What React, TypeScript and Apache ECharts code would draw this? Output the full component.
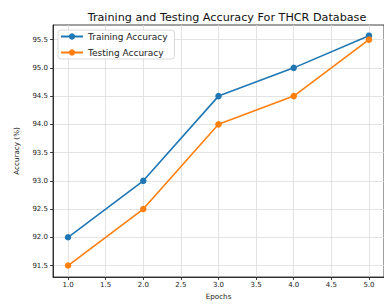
import React, { useEffect, useRef } from "react";
import * as echarts from "echarts";

const epochs = [1, 2, 3, 4, 5];
const trainingAccuracy = [92.0, 93.0, 94.5, 95.0, 95.57];
const testingAccuracy = [91.5, 92.5, 94.0, 94.5, 95.5];
const xTicks = [1.0, 1.5, 2.0, 2.5, 3.0, 3.5, 4.0, 4.5, 5.0];
const yTicks = [91.5, 92.0, 92.5, 93.0, 93.5, 94.0, 94.5, 95.0, 95.5];

const FONT = "DejaVu Sans";

export default function App() {
  const ref = useRef<HTMLDivElement>(null);
  useEffect(() => {
    document.body.style.margin = "0";
    const chart = echarts.init(ref.current!, undefined, { renderer: "svg" });
    const tickFont = { fontFamily: FONT, fontSize: 7, color: "#222" };
    chart.setOption({
      animation: false,
      backgroundColor: "#ffffff",
      title: {
        text: "Training and Testing Accuracy For THCR Database",
        left: 222,
        top: 7,
        textAlign: "center",
        textStyle: { fontFamily: FONT, fontSize: 11.2, fontWeight: "normal", color: "#111" },
      },
      legend: {
        orient: "vertical",
        left: 58,
        top: 30,
        padding: [2, 7, 2, 2],
        itemWidth: 22,
        itemHeight: 8,
        itemGap: 7,
        backgroundColor: "rgba(255,255,255,0.85)",
        borderColor: "#d0d0d0",
        borderWidth: 0.8,
        borderRadius: 3,
        textStyle: { fontFamily: FONT, fontSize: 9, color: "#222" },
        data: ["Training Accuracy", "Testing Accuracy"],
      },
      grid: {
        left: 53,
        right: -9,
        top: 25,
        bottom: 28,
        show: true,
        borderColor: "#111",
        borderWidth: 0.8,
        backgroundColor: "transparent",
      },
      xAxis: {
        type: "value",
        min: 0.8,
        max: 5.2,
        name: "Epochs",
        nameLocation: "middle",
        nameGap: 15,
        nameTextStyle: { fontFamily: FONT, fontSize: 7.2, color: "#222" },
        axisLine: { show: true, lineStyle: { color: "#111", width: 0.8 } },
        axisTick: { show: true, length: 3, lineStyle: { color: "#111", width: 0.8 }, customValues: xTicks },
        axisLabel: {
          ...tickFont,
          margin: 4,
          customValues: xTicks,
          formatter: (v: number) => v.toFixed(1),
        },
        splitLine: { show: true, lineStyle: { color: "#dcdcdc", width: 0.8 } },
      },
      yAxis: {
        type: "value",
        min: 91.297,
        max: 95.759,
        name: "Accuracy (%)",
        nameLocation: "middle",
        nameGap: 33,
        nameTextStyle: { fontFamily: FONT, fontSize: 7.2, color: "#222" },
        axisLine: { show: true, lineStyle: { color: "#111", width: 0.8 } },
        axisTick: { show: true, length: 3, lineStyle: { color: "#111", width: 0.8 }, customValues: yTicks },
        axisLabel: {
          ...tickFont,
          margin: 5,
          customValues: yTicks,
          formatter: (v: number) => v.toFixed(1),
        },
        splitLine: { show: true, lineStyle: { color: "#dcdcdc", width: 0.8 } },
      },
      series: [
        {
          name: "Training Accuracy",
          type: "line",
          data: epochs.map((e, i) => [e, trainingAccuracy[i]]),
          symbol: "circle",
          symbolSize: 6.5,
          color: "#1f77b4",
          lineStyle: { width: 1.6, color: "#1f77b4" },
          itemStyle: { color: "#1f77b4" },
          z: 3,
        },
        {
          name: "Testing Accuracy",
          type: "line",
          data: epochs.map((e, i) => [e, testingAccuracy[i]]),
          symbol: "circle",
          symbolSize: 6.5,
          color: "#ff7f0e",
          lineStyle: { width: 1.6, color: "#ff7f0e" },
          itemStyle: { color: "#ff7f0e" },
          z: 4,
        },
      ],
    });
    return () => chart.dispose();
  }, []);
  return <div ref={ref} style={{ width: 384, height: 305 }} />;
}
